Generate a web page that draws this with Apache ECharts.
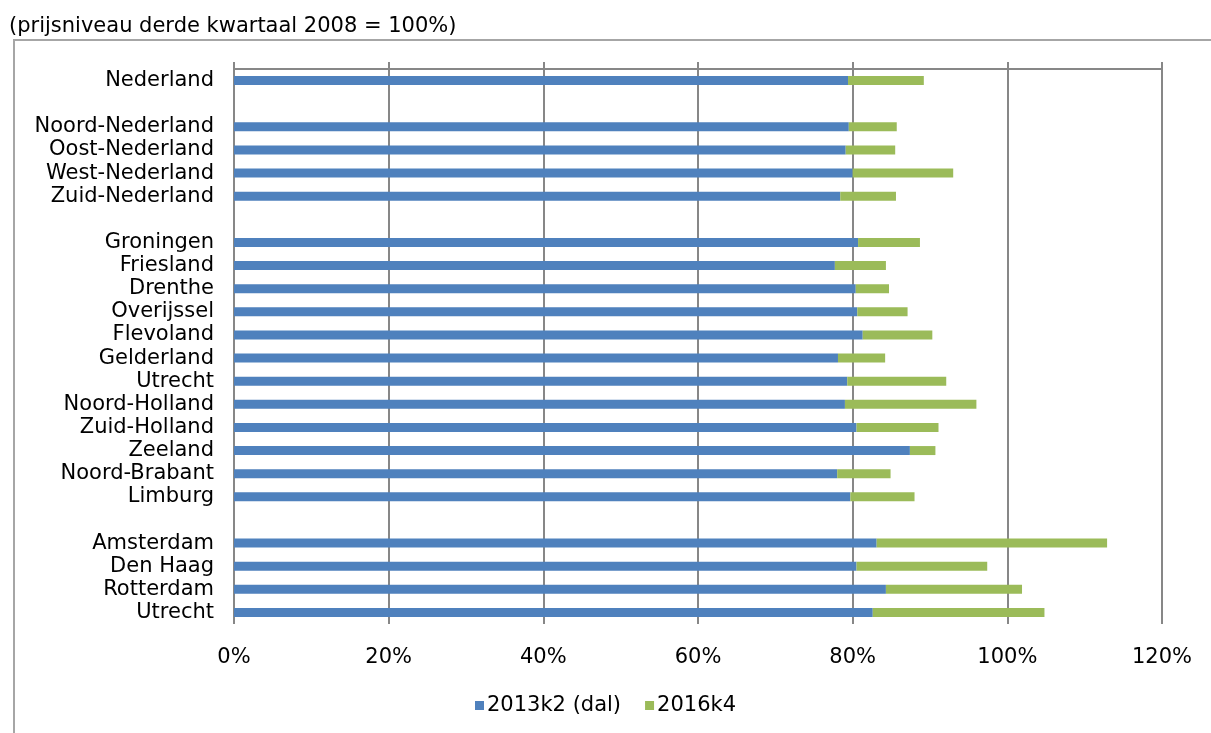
<!DOCTYPE html>
<html>
<head>
<meta charset="utf-8">
<script src="https://cdn.jsdelivr.net/npm/echarts@6/dist/echarts.min.js"></script>
<style>
  html, body { margin: 0; padding: 0; background: #fff; }
  #chart { width: 1211px; height: 733px; }
</style>
</head>
<body>
<div id="chart"></div>
<script>
// lege regels ('') zijn de witregels tussen de groepen
const regios = [
  'Nederland', '',
  'Noord-Nederland', 'Oost-Nederland', 'West-Nederland', 'Zuid-Nederland', '',
  'Groningen', 'Friesland', 'Drenthe', 'Overijssel', 'Flevoland', 'Gelderland',
  'Utrecht', 'Noord-Holland', 'Zuid-Holland', 'Zeeland', 'Noord-Brabant', 'Limburg', '',
  'Amsterdam', 'Den Haag', 'Rotterdam', 'Utrecht'
]
const dal2013k2 = [
  79.4, null,
  79.5, 79.1, 80.0, 78.4, null,
  80.7, 77.7, 80.4, 80.6, 81.3, 78.1,
  79.3, 79.0, 80.5, 87.4, 78.0, 79.7, null,
  83.1, 80.5, 84.3, 82.6
]
const niveau2016k4 = [
  89.2, null,
  85.7, 85.5, 93.0, 85.6, null,
  88.7, 84.3, 84.7, 87.1, 90.3, 84.2,
  92.1, 96.0, 91.1, 90.7, 84.9, 88.0, null,
  112.9, 97.4, 101.9, 104.8
]
const xTicks = [0, 20, 40, 60, 80, 100, 120]

const font = 'DejaVu Sans'
const fs = 21
const gridColor = '#878787'

// groene balk loopt van het dal tot het niveau van 2016k4
const stijging = niveau2016k4.map((v, i) => v == null ? '-' : +(v - dal2013k2[i]).toFixed(1))
const dal = dal2013k2.map(v => v == null ? '-' : v)

const chart = echarts.init(document.getElementById('chart'))
chart.setOption({
  animation: false,
  title: {
    text: '(prijsniveau derde kwartaal 2008 = 100%)',
    left: 9,
    top: 16,
    padding: 0,
    textStyle: { fontFamily: font, fontSize: fs, fontWeight: 'normal', color: '#000' }
  },
  graphic: [{
    type: 'polyline',
    shape: { points: [[14, 740], [14, 40], [1220, 40]] },
    style: { stroke: '#a6a6a6', lineWidth: 2, fill: null }
  }],
  legend: {
    bottom: 12,
    left: 'center',
    itemWidth: 9,
    itemHeight: 9,
    itemGap: 24,
    icon: 'rect',
    textStyle: { fontFamily: font, fontSize: fs, color: '#000', padding: [0, 0, 0, -2] },
    data: ['2013k2 (dal)', '2016k4']
  },
  grid: { left: 234, right: 49, top: 69, bottom: 109, containLabel: false },
  xAxis: [{
    type: 'value',
    min: xTicks[0],
    max: xTicks[xTicks.length - 1],
    interval: 20,
    position: 'bottom',
    axisLine: { show: false },
    axisTick: { show: false },
    axisLabel: {
      formatter: '{value}%',
      margin: 23,
      fontFamily: font, fontSize: fs, color: '#000'
    },
    splitLine: { show: true, lineStyle: { color: gridColor, width: 2 } }
  }, {
    type: 'value',
    min: xTicks[0],
    max: xTicks[xTicks.length - 1],
    interval: 20,
    position: 'top',
    axisLine: { show: true, lineStyle: { color: gridColor, width: 2 } },
    axisTick: { show: true, length: 7, lineStyle: { color: gridColor, width: 2 } },
    axisLabel: { show: false },
    splitLine: { show: false }
  }],
  yAxis: {
    type: 'category',
    inverse: true,
    data: regios,
    axisLine: { show: false },
    axisTick: { show: false },
    axisLabel: {
      margin: 20,
      interval: 0,
      fontFamily: font, fontSize: fs, color: '#000'
    }
  },
  series: [{
    name: '2013k2 (dal)',
    type: 'bar',
    stack: 'prijs',
    barWidth: 9,
    itemStyle: { color: '#4f81bd' },
    data: dal
  }, {
    name: '2016k4',
    type: 'bar',
    stack: 'prijs',
    barWidth: 9,
    itemStyle: { color: '#9bbb59' },
    data: stijging
  }]
})
</script>
</body>
</html>
